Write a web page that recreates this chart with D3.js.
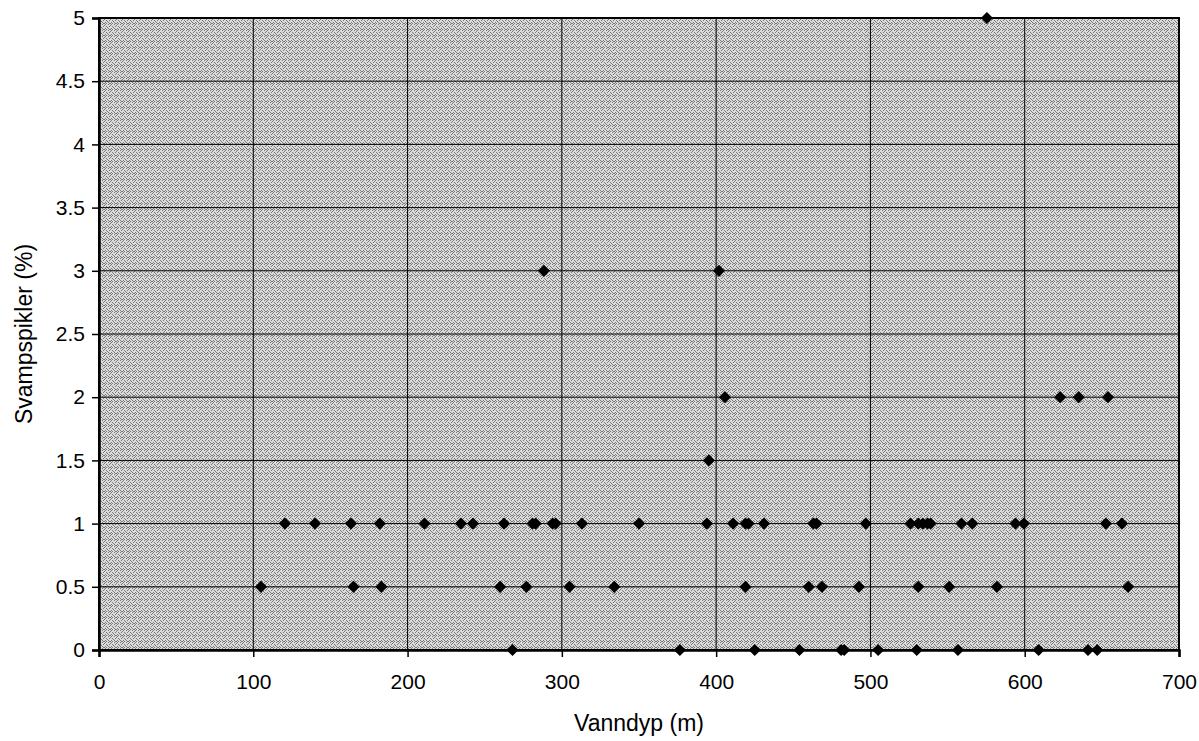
<!DOCTYPE html>
<html>
<head>
<meta charset="utf-8">
<script src="https://d3js.org/d3.v7.min.js"></script>
<style>
  body { margin: 0; background: #fff; }
  svg { display: block; font-family: "Liberation Sans", Arial, sans-serif; }
  .grid line { stroke: #000; stroke-width: 1; }
</style>
</head>
<body>
<svg width="1199" height="741"></svg>
<script>
// depth (m) and sponge spicule share (%)
const depth = [
  120.5, 140, 163.3, 182, 211, 234.6, 242.4, 262.5, 281, 283, 294, 296, 313, 350, 394,
  411, 419, 421, 431, 463, 465, 497, 526, 531, 534, 537, 539, 559, 566, 594, 599.5, 652.6, 663,
  105, 165, 183, 260, 277, 305, 334, 419, 460, 468.6, 492.5, 531, 551, 582, 667,
  268, 376.5, 425, 454, 481, 483, 505, 530, 556.7, 609, 641, 647,
  395.3, 405.7, 623, 635, 654, 288.4, 401.8, 575.5
];
const spikes = [
  1, 1, 1, 1, 1, 1, 1, 1, 1, 1, 1, 1, 1, 1, 1,
  1, 1, 1, 1, 1, 1, 1, 1, 1, 1, 1, 1, 1, 1, 1, 1, 1, 1,
  0.5, 0.5, 0.5, 0.5, 0.5, 0.5, 0.5, 0.5, 0.5, 0.5, 0.5, 0.5, 0.5, 0.5, 0.5,
  0, 0, 0, 0, 0, 0, 0, 0, 0, 0, 0, 0,
  1.5, 2, 2, 2, 2, 3, 3, 5
];
const xTicks = [0, 100, 200, 300, 400, 500, 600, 700];
const yTicks = [0, 0.5, 1, 1.5, 2, 2.5, 3, 3.5, 4, 4.5, 5];

const svg = d3.select("svg"),
  margin = {top: 18, right: 20, bottom: 91, left: 99},
  width = +svg.attr("width") - margin.left - margin.right,
  height = +svg.attr("height") - margin.top - margin.bottom,
  g = svg.append("g").attr("transform", "translate(" + margin.left + "," + margin.top + ")");

const x = d3.scaleLinear().domain([0, 700]).range([0, width]);
const y = d3.scaleLinear().domain([0, 5]).range([height, 0]);

// stippled plot background (scanned halftone look)
const dots = [[0,0],[3,0],[5,1],[1,2],[4,2],[2,3],[0,4],[3,4],[5,5],[1,5],[4,5]];
const pat = svg.append("defs").append("pattern")
  .attr("id", "stipple").attr("width", 6).attr("height", 6)
  .attr("patternUnits", "userSpaceOnUse");
pat.append("rect").attr("width", 6).attr("height", 6).attr("fill", "#dadada");
pat.selectAll("rect.d").data(dots).enter().append("rect")
  .attr("class", "d")
  .attr("x", d => d[0]).attr("y", d => d[1])
  .attr("width", 1).attr("height", 1)
  .attr("fill", "#7a7a7a");

g.append("rect")
  .attr("width", width).attr("height", height)
  .attr("fill", "url(#stipple)");

// grid
g.append("g").attr("class", "grid")
  .selectAll("line").data(yTicks).enter().append("line")
  .attr("x1", 0).attr("x2", width)
  .attr("y1", d => y(d)).attr("y2", d => y(d));
g.append("g").attr("class", "grid")
  .selectAll("line").data(xTicks).enter().append("line")
  .attr("y1", 0).attr("y2", height)
  .attr("x1", d => x(d)).attr("x2", d => x(d));

// frame
g.append("rect")
  .attr("width", width).attr("height", height)
  .attr("fill", "none").attr("stroke", "#000").attr("stroke-width", 2);

// axes
const xAxis = g.append("g")
  .attr("transform", "translate(0," + height + ")")
  .call(d3.axisBottom(x).tickValues(xTicks).tickFormat(d3.format("d")).tickSize(7).tickPadding(17));
const yAxis = g.append("g")
  .call(d3.axisLeft(y).tickValues(yTicks).tickFormat(d => String(d)).tickSize(7).tickPadding(7));
[xAxis, yAxis].forEach(a => {
  a.attr("font-family", null).attr("font-size", null);
  a.select(".domain").attr("stroke", "#000").attr("stroke-width", 2.5);
  a.selectAll(".tick line").attr("stroke", "#000").attr("stroke-width", 1.5);
  a.selectAll(".tick text").attr("fill", "#000").style("font-size", "21px");
});

// points
const diamond = d3.symbol().type(d3.symbolSquare).size(74);
g.selectAll(".pt")
  .data(depth.map((d, i) => ({depth: d, val: spikes[i]})))
  .enter().append("path")
  .attr("class", "pt")
  .attr("d", diamond)
  .attr("transform", d => "translate(" + x(d.depth) + "," + y(d.val) + ") rotate(45)")
  .attr("fill", "#000");

// axis titles
svg.append("text")
  .attr("x", margin.left + width / 2)
  .attr("y", 731)
  .attr("text-anchor", "middle")
  .style("font-size", "23px")
  .text("Vanndyp (m)");

svg.append("text")
  .attr("transform", "translate(32," + (margin.top + height / 2) + ") rotate(-90)")
  .attr("text-anchor", "middle")
  .style("font-size", "23px")
  .text("Svampspikler (%)");
</script>
</body>
</html>
